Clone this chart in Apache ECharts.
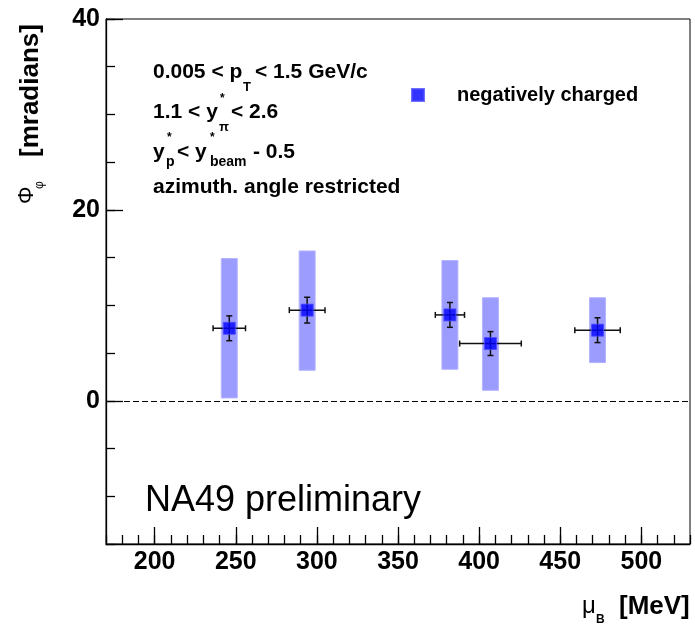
<!DOCTYPE html>
<html>
<head>
<meta charset="utf-8">
<script src="https://cdn.jsdelivr.net/npm/echarts@6/dist/echarts.min.js"></script>
<style>
  html, body { margin: 0; padding: 0; background: #fff; }
  #chart { width: 695px; height: 625px; }
</style>
</head>
<body>
<div id="chart"></div>
<script>
// Phi_phi versus baryochemical potential, negatively charged particles
const muB      = [246, 294, 382, 407, 473];   // MeV
const phiPhi   = [7.6, 9.5, 9.0, 6.0, 7.4];   // mradians
const muBErr   = [10, 11, 9, 19, 14];         // horizontal error, MeV
const statErr  = [1.3, 1.35, 1.3, 1.25, 1.3]; // statistical error
const sysLow   = [0.3, 3.2, 3.3, 1.1, 4.0];   // systematic band bottom
const sysHigh  = [14.9, 15.7, 14.7, 10.8, 10.8]; // systematic band top
const xTickLabels = [200, 250, 300, 350, 400, 450, 500];
const yTickLabels = [0, 20, 40];

const FONT = "'Liberation Sans', Arial, Helvetica, sans-serif";

const bandData = muB.map((m, i) => [m, sysLow[i], sysHigh[i]]);
const errData  = muB.map((m, i) => [m, phiPhi[i], muBErr[i], statErr[i]]);
const ptData   = muB.map((m, i) => [m, phiPhi[i]]);

const chart = echarts.init(document.getElementById('chart'), null, { renderer: 'canvas' });

function txt(x, y, text, size, bold, extra) {
  return Object.assign({
    type: 'text', x: x, y: y, silent: true,
    style: {
      text: text, fill: '#000', font: (bold ? 'bold ' : '') + size + 'px ' + FONT,
      textAlign: 'left', textVerticalAlign: 'middle'
    }
  }, extra || {});
}

const annotations = [
  // line 1
  txt(153, 72, '0.005 < p', 21, true),
  txt(243, 87, 'T', 13, true),
  txt(255, 72, '< 1.5 GeV/c', 21, true),
  // line 2
  txt(153, 112, '1.1 < y', 21, true),
  txt(220, 99, '*', 12, true),
  txt(219, 127, 'π', 13, true),
  txt(231, 112, '< 2.6', 21, true),
  // line 3
  txt(153, 152, 'y', 21, true),
  txt(167, 138, '*', 12, true),
  txt(166, 162, 'p', 14, true),
  txt(177, 152, '< y', 21, true),
  txt(210, 138, '*', 12, true),
  txt(210, 162, 'beam', 14, true),
  txt(253, 152, '- 0.5', 21, true),
  // line 4
  txt(153, 187, 'azimuth. angle restricted', 21, true),
  // plot label
  txt(145, 501, 'NA49 preliminary', 36, false),
  // x axis title
  txt(582, 606, 'μ', 24, false),
  txt(596, 620, 'B', 12, true),
  txt(619, 607, '[MeV]', 26, true),
  // y axis title (rotated)
  txt(31, 157, '[mradians]', 26, true, { rotation: Math.PI / 2 }),
  txt(27, 204, 'Φ', 22, false, { rotation: Math.PI / 2 }),
  txt(40, 189, 'φ', 12, false, { rotation: Math.PI / 2 })
];

const tickLabelStyle = { fontFamily: FONT, fontSize: 25, fontWeight: 'bold', color: '#000', margin: 6 };
const tickLine = { color: '#000', width: 1.3 };

const option = {
  animation: false,
  backgroundColor: '#fff',
  textStyle: { fontFamily: FONT },
  grid: {
    left: 106, right: 5, top: 19, bottom: 81,
    show: true, borderColor: '#000', borderWidth: 1, backgroundColor: 'transparent'
  },
  legend: {
    left: 406, top: 80,
    itemWidth: 12, itemHeight: 12, icon: 'rect',
    data: ['negatively charged'],
    textStyle: { fontFamily: FONT, fontSize: 20, fontWeight: 'bold', color: '#000', padding: [0, 0, 0, 28] }
  },
  xAxis: [
    {
      // minor ticks every 10 MeV
      type: 'value', min: 170, max: 530, interval: 10, position: 'bottom',
      axisLine: { onZero: false, lineStyle: { color: '#000', width: 1.3 } },
      axisTick: { inside: true, length: 9, lineStyle: tickLine },
      axisLabel: { show: false },
      splitLine: { show: false }
    },
    {
      // labelled major ticks
      type: 'value', min: 170, max: 530, position: 'bottom',
      axisLine: { show: false, onZero: false },
      axisTick: { show: true, inside: true, length: 17, customValues: xTickLabels, lineStyle: tickLine },
      axisLabel: Object.assign({ show: true, customValues: xTickLabels }, tickLabelStyle),
      splitLine: { show: false }
    }
  ],
  yAxis: [
    {
      type: 'value', min: -15, max: 40, interval: 5, position: 'left',
      axisLine: { show: true, onZero: false, lineStyle: { color: '#000', width: 1.3 } },
      axisTick: { show: true, inside: true, length: 9, lineStyle: tickLine },
      axisLabel: { show: false },
      splitLine: { show: false }
    },
    {
      type: 'value', min: -15, max: 40, position: 'left',
      axisLine: { show: false, onZero: false },
      axisTick: { show: true, inside: true, length: 17, customValues: yTickLabels, lineStyle: tickLine },
      axisLabel: Object.assign({ show: true, customValues: yTickLabels }, tickLabelStyle),
      splitLine: { show: false }
    }
  ],
  series: [
    {
      // systematic uncertainty bands
      type: 'custom', name: 'sys', z: 1,
      xAxisIndex: 0, yAxisIndex: 0,
      data: bandData,
      encode: { x: 0, y: [1, 2] },
      renderItem: function (params, api) {
        const lo = api.coord([api.value(0), api.value(1)]);
        const hi = api.coord([api.value(0), api.value(2)]);
        const w = 16;
        return {
          type: 'rect',
          shape: { x: lo[0] - w / 2, y: hi[1], width: w, height: lo[1] - hi[1] },
          style: { fill: '#9c9cff', stroke: '#b4b4ff', lineWidth: 1 }
        };
      }
    },
    {
      // statistical and horizontal error bars
      type: 'custom', name: 'err', z: 3,
      xAxisIndex: 0, yAxisIndex: 0,
      data: errData,
      encode: { x: 0, y: 1 },
      renderItem: function (params, api) {
        const x = api.value(0), y = api.value(1), ex = api.value(2), ey = api.value(3);
        const L = api.coord([x - ex, y]), R = api.coord([x + ex, y]);
        const T = api.coord([x, y + ey]), B = api.coord([x, y - ey]);
        const c = 3;
        const st = { stroke: '#111', lineWidth: 1.5 };
        const line = (x1, y1, x2, y2) => ({ type: 'line', shape: { x1, y1, x2, y2 }, style: st });
        return {
          type: 'group',
          children: [
            line(L[0], L[1], R[0], R[1]),
            line(L[0], L[1] - c, L[0], L[1] + c),
            line(R[0], R[1] - c, R[0], R[1] + c),
            line(T[0], T[1], B[0], B[1]),
            line(T[0] - c, T[1], T[0] + c, T[1]),
            line(B[0] - c, B[1], B[0] + c, B[1])
          ]
        };
      }
    },
    {
      type: 'scatter', name: 'negatively charged', z: 4,
      xAxisIndex: 0, yAxisIndex: 0,
      data: ptData,
      symbol: 'rect', symbolSize: 12,
      itemStyle: { color: '#0000ff', borderColor: '#4a4aff', borderWidth: 1 },
      markLine: {
        silent: true, symbol: 'none',
        label: { show: false },
        lineStyle: { color: '#000', type: [6, 3], width: 1 },
        data: [{ yAxis: 0 }]
      }
    }
  ],
  graphic: annotations
};

chart.setOption(option);
</script>
</body>
</html>
